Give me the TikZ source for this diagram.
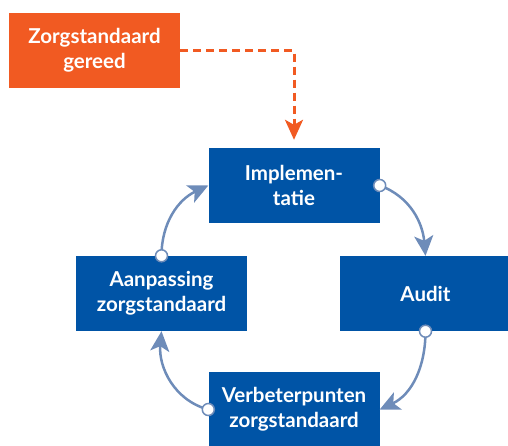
\documentclass[tikz,border=0pt]{standalone}
\usepackage{fontspec}
\setmainfont{Lato}
\usepackage{tikz}
\usetikzlibrary{arrows.meta}
\definecolor{zsblue}{RGB}{0,84,166}
\definecolor{zsorange}{RGB}{241,90,34}
\definecolor{zsarrow}{RGB}{110,140,185}
\tikzset{
	stapbox/.style = {rectangle, fill=zsblue, text=white, align=center,
		font=\fontsize{20.5}{25}\selectfont\bfseries, minimum width=171pt,
		minimum height=75pt, inner sep=0pt},
	startbox/.style = {stapbox, fill=zsorange},
	knop/.style = {circle, fill=white, draw=zsarrow, line width=1.5pt,
		minimum size=12pt, inner sep=0pt},
	flow/.style = {-{Stealth[length=20pt,width=19pt,inset=5pt]}, draw=zsarrow,
		line width=2.5pt},
	dashflow/.style = {-{Stealth[length=20pt,width=18pt,inset=5pt]},
		draw=zsorange, line width=3pt, dash pattern=on 8pt off 5pt,
		shorten >=8pt}
}
\begin{document}
\begin{tikzpicture}[x=1pt,y=1pt]
\useasboundingbox (0,0) rectangle (508,445);
\node [startbox] (gereed) at (94.5,394.5) {Zorgstandaard\\gereed};
\node [stapbox] (impl) at (294,259.5) {Implemen-\\tatie};
\node [stapbox] (audit) at (425.5,151.5) {Audit};
\node [stapbox] (aanp) at (161.5,151.5) {Aanpassing\\zorgstandaard};
\node [stapbox] (verb) at (294,35.5) {Verbeterpunten\\zorgstandaard};

\draw [dashflow] (gereed.east) -| (impl.north);

\draw [flow] (impl.east) to[out=-20,in=95] (audit.north);
\draw [flow] (audit.south) to[out=-90,in=25] (verb.east);
\draw [flow] (verb.west) to[out=165,in=-95] (aanp.south);
\draw [flow] (aanp.north) to[out=90,in=205] (impl.west);

\node [knop] (k1) at (impl.east) {};
\node [knop] (k2) at (audit.south) {};
\node [knop] (k3) at (verb.west) {};
\node [knop] (k4) at (aanp.north) {};
\end{tikzpicture}
\end{document}
